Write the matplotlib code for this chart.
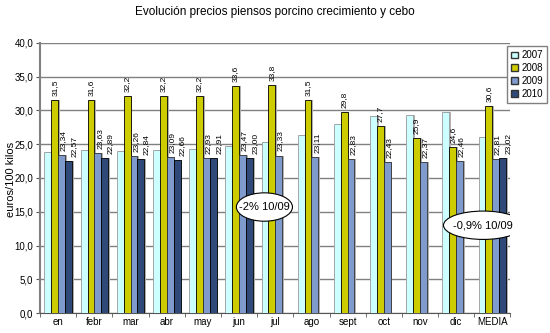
import matplotlib.pyplot as plt
import numpy as np
from matplotlib.patches import Ellipse, Patch

plt.rcParams['font.family'] = ['Liberation Sans', 'DejaVu Sans']

meses = ["en", "febr", "mar", "abr", "may", "jun", "jul", "ago", "sept", "oct", "nov", "dic", "MEDIA"]
v2007 = [23.8, 24.1, 24.0, 24.1, 24.3, 24.7, 25.3, 26.4, 28.0, 29.2, 29.4, 29.7, 26.0]
v2008 = [31.5, 31.6, 32.2, 32.2, 32.2, 33.6, 33.8, 31.5, 29.8, 27.7, 25.9, 24.6, 30.6]
v2009 = [23.34, 23.63, 23.26, 23.09, 22.93, 23.47, 23.33, 23.11, 22.83, 22.43, 22.37, 22.46, 22.81]
v2010 = [22.57, 22.89, 22.84, 22.66, 22.91, 23.00, None, None, None, None, None, None, 23.02]

# nombre, valores, relleno, borde, decimales, desplazamiento de la etiqueta
series = [("2007", v2007, "#ccffff", "#999999", None, 0),
          ("2008", v2008, "#cccc00", "#000000", 1, 0),
          ("2009", v2009, "#7f9acc", "#333333", 2, 0.05),
          ("2010", v2010, "#2f4a78", "#000000", 2, 0.15)]

fig = plt.figure(figsize=(5.5, 3.33), dpi=100)
ax = fig.add_axes([0.073, 0.06, 0.855, 0.811])

x = np.arange(len(meses))
w = 0.19
for i, (name, vals, fc, ec, dec, off) in enumerate(series):
    xs = [xi + (i - 1.5) * w for xi, v in zip(x, vals) if v is not None]
    ys = [v for v in vals if v is not None]
    # sombra
    ax.bar(np.array(xs) + 0.05, ys, width=w, color="#b0b0b0", zorder=2)
    ax.bar(xs, ys, width=w, color=fc, edgecolor=ec, linewidth=0.6, zorder=3)
    if dec is not None:
        for xx, yy in zip(xs, ys):
            txt = f"{yy:.{dec}f}".replace(".", ",")
            ax.text(xx + off, yy + 0.6, txt, rotation=90, ha="center", va="bottom", fontsize=6, zorder=4)

ax.set_xlim(-0.5, len(meses) - 0.5)
ax.set_ylim(0, 40)
ax.set_yticks(np.arange(0, 41, 5))
ax.set_yticklabels([f"{t:.1f}".replace(".", ",") for t in np.arange(0, 41, 5)], fontsize=7)
ax.set_xticks(x)
ax.set_xticklabels(meses, fontsize=7)
ax.set_xticks(np.arange(-0.5, len(meses), 1), minor=True)
ax.tick_params(axis="x", which="major", length=0, pad=3)
ax.tick_params(axis="x", which="minor", length=3, color="#555555")
ax.tick_params(axis="y", length=3, color="#555555", pad=2)
ax.yaxis.grid(True, color="#808080", linewidth=1, zorder=0)
ax.set_axisbelow(True)
for s in ["top", "right"]:
    ax.spines[s].set_visible(False)
ax.spines["left"].set_color("#808080")
ax.spines["left"].set_linewidth(1.5)
ax.spines["bottom"].set_color("#555555")

fig.text(0.02, 0.46, "euros/100 kilos", rotation=90, ha="center", va="center", fontsize=8)
fig.text(0.5, 0.965, "Evolución precios piensos porcino crecimiento y cebo", ha="center", va="center", fontsize=8.5)

# globos de texto
for cx, cy, ew, eh, label in [(5.7, 15.7, 1.55, 4.2, "-2% 10/09"), (11.75, 13.0, 2.2, 4.2, "-0,9% 10/09")]:
    ax.add_patch(Ellipse((cx, cy), ew, eh, facecolor="white", edgecolor="#000000", linewidth=0.8, zorder=6))
    ax.text(cx, cy, label, ha="center", va="center", fontsize=8, zorder=7)

handles = [Patch(facecolor=s[2], edgecolor="#333333", label=s[0]) for s in series]
leg = fig.legend(handles=handles, loc="upper left", bbox_to_anchor=(0.913, 0.875), fontsize=7,
                 handlelength=0.7, handleheight=0.7, handletextpad=0.4, borderpad=0.4,
                 labelspacing=0.3, fancybox=False, framealpha=1)
leg.get_frame().set_edgecolor("#808080")

fig.savefig("out.png", dpi=100)
